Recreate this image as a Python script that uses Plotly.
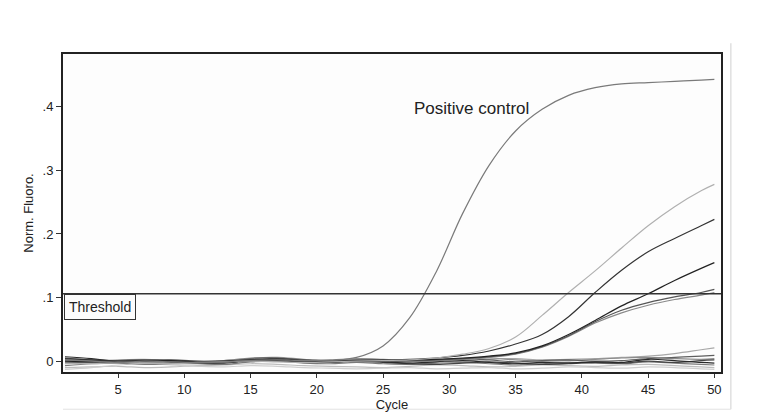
import plotly.graph_objects as go

cycles = [1, 3, 5, 7, 9, 11, 13, 15, 17, 19, 21, 23, 25, 27, 29, 31, 33, 35, 37, 39, 41, 43, 45, 47, 49, 50]

positive_control = [0.002, 0.000, -0.002, 0.000, -0.001, -0.002, -0.001, 0.001, 0.002, 0.001, 0.002, 0.006, 0.024, 0.068, 0.140, 0.232, 0.308, 0.362, 0.396, 0.418, 0.430, 0.436, 0.438, 0.440, 0.442, 0.443]
sample_a = [-0.003, -0.004, -0.002, -0.003, -0.004, -0.002, -0.001, 0.000, -0.001, -0.002, -0.001, 0.000, 0.001, 0.002, 0.005, 0.011, 0.020, 0.038, 0.072, 0.108, 0.142, 0.178, 0.213, 0.243, 0.268, 0.278]
sample_b = [0.004, 0.002, 0.000, 0.001, -0.001, -0.002, 0.000, 0.002, 0.001, 0.000, -0.001, 0.001, 0.002, 0.003, 0.005, 0.009, 0.016, 0.027, 0.042, 0.070, 0.108, 0.143, 0.172, 0.193, 0.213, 0.223]
sample_c = [0.000, -0.001, -0.002, 0.000, 0.001, -0.001, -0.002, 0.001, 0.002, 0.000, -0.001, 0.000, 0.001, 0.002, 0.003, 0.005, 0.008, 0.013, 0.024, 0.042, 0.064, 0.087, 0.106, 0.127, 0.146, 0.155]
sample_d = [-0.002, -0.001, 0.001, 0.002, 0.000, -0.001, 0.000, 0.002, 0.001, -0.001, 0.000, 0.001, 0.000, 0.001, 0.002, 0.004, 0.007, 0.012, 0.023, 0.040, 0.062, 0.080, 0.092, 0.101, 0.108, 0.113]
sample_e = [0.001, 0.000, -0.001, -0.002, -0.001, 0.000, 0.001, 0.003, 0.002, 0.000, -0.001, 0.000, 0.001, 0.000, 0.001, 0.003, 0.006, 0.011, 0.022, 0.039, 0.060, 0.076, 0.088, 0.097, 0.104, 0.108]

neg_1 = [0.007, 0.004, 0.000, 0.001, -0.001, -0.002, -0.003, 0.002, 0.003, 0.000, -0.002, 0.001, -0.001, -0.003, -0.001, 0.001, -0.002, -0.004, -0.002, -0.003, -0.001, -0.002, 0.003, 0.001, -0.002, -0.003]
neg_2 = [0.005, 0.002, 0.001, 0.002, 0.000, -0.003, -0.002, 0.004, 0.005, 0.001, 0.000, 0.002, 0.001, -0.001, 0.002, 0.004, 0.002, -0.001, 0.001, 0.002, 0.000, 0.001, 0.004, 0.006, 0.008, 0.009]
neg_3 = [-0.004, -0.002, 0.002, 0.003, 0.001, -0.001, 0.000, 0.003, 0.001, -0.002, -0.001, 0.003, 0.002, 0.000, -0.002, 0.000, 0.003, 0.004, 0.002, 0.003, 0.004, 0.006, 0.008, 0.012, 0.018, 0.021]
neg_4 = [-0.010, -0.009, -0.008, -0.010, -0.009, -0.007, -0.006, -0.004, -0.005, -0.007, -0.008, -0.009, -0.010, -0.008, -0.006, -0.007, -0.009, -0.008, -0.006, -0.007, -0.008, -0.006, -0.005, -0.007, -0.009, -0.010]
neg_5 = [-0.007, -0.004, -0.003, -0.005, -0.004, -0.004, -0.005, -0.001, 0.000, -0.003, -0.004, -0.002, -0.004, -0.005, -0.003, -0.002, -0.004, -0.006, -0.004, -0.002, -0.003, -0.004, -0.001, -0.003, -0.005, -0.006]
neg_6 = [0.001, 0.000, -0.001, 0.001, 0.002, 0.000, -0.002, 0.001, 0.004, 0.002, -0.001, 0.000, -0.002, -0.004, -0.005, -0.003, -0.001, -0.003, -0.005, -0.004, -0.002, -0.003, 0.000, -0.002, 0.001, 0.002]
neg_7 = [-0.013, -0.010, -0.006, -0.004, -0.006, -0.008, -0.009, -0.007, -0.008, -0.010, -0.011, -0.012, -0.011, -0.010, -0.012, -0.011, -0.010, -0.012, -0.011, -0.009, -0.010, -0.011, -0.009, -0.010, -0.012, -0.013]
neg_8 = [0.003, 0.001, 0.000, -0.002, -0.003, -0.001, 0.001, 0.005, 0.006, 0.003, 0.001, 0.004, 0.003, 0.001, 0.000, 0.003, 0.005, 0.002, 0.000, 0.001, 0.003, 0.005, 0.006, 0.004, 0.003, 0.004]

threshold = 0.106
y_ticks = [0, 0.1, 0.2, 0.3, 0.4]
y_tick_labels = ["0", ".1", ".2", ".3", ".4"]
x_ticks = [5, 10, 15, 20, 25, 30, 35, 40, 45, 50]

negatives = [
    (neg_4, "#bdbdbd"), (neg_7, "#cfcfcf"), (neg_5, "#7a7a7a"), (neg_3, "#a8a8a8"),
    (neg_8, "#8c8c8c"), (neg_2, "#5e5e5e"), (neg_6, "#444444"), (neg_1, "#2a2a2a"),
]
samples = [
    (sample_e, "#8a8a8a"), (sample_d, "#555555"), (sample_c, "#222222"),
    (sample_b, "#333333"), (sample_a, "#b0b0b0"), (positive_control, "#7a7a7a"),
]

fig = go.Figure()
for vals, col in negatives + samples:
    fig.add_trace(go.Scatter(x=cycles, y=vals, mode="lines",
                             line=dict(color=col, width=1.2, shape="spline", smoothing=1.0),
                             showlegend=False, hoverinfo="skip"))

font = "Liberation Sans, Arial, sans-serif"

fig.add_shape(type="line", xref="paper", x0=0, x1=1, yref="y", y0=threshold, y1=threshold,
              line=dict(color="#333333", width=1.5))
fig.add_annotation(xref="paper", x=0.002, yref="y", y=threshold, xanchor="left", yanchor="top",
                   text="Threshold", showarrow=False, font=dict(family=font, size=14, color="#222"),
                   bordercolor="#333333", borderwidth=1, borderpad=4, bgcolor="#fcfcfc", yshift=0)
fig.add_annotation(x=31.7, y=0.398, xref="x", yref="y", text="Positive control", showarrow=False,
                   font=dict(family=font, size=17, color="#222"))

# faint scan frame
fig.add_shape(type="line", xref="paper", yref="paper", x0=1.015, x1=1.015, y0=-0.117, y1=1.034,
              line=dict(color="#d8d8d8", width=1.2))
fig.add_shape(type="line", xref="paper", yref="paper", x0=0.0, x1=1.015, y0=-0.117, y1=-0.117,
              line=dict(color="#e2e2e2", width=1))

fig.update_layout(
    width=763, height=411,
    margin=dict(l=55, r=50, t=46, b=40),
    paper_bgcolor="#ffffff", plot_bgcolor="#fdfdfd",
    font=dict(family=font, size=12, color="#222"),
    xaxis=dict(range=[0.85, 50.5], tickvals=x_ticks, ticks="outside", ticklen=4, tickcolor="#333",
               showline=True, linewidth=2, linecolor="#222", mirror=True, showgrid=False, zeroline=False,
               title=dict(text="Cycle", font=dict(size=13), standoff=1),
               tickfont=dict(size=13)),
    yaxis=dict(range=[-0.017, 0.483], tickvals=y_ticks, ticktext=y_tick_labels, ticks="outside",
               ticklen=5, tickcolor="#333", showline=True, linewidth=2, linecolor="#222", mirror=True,
               showgrid=False, zeroline=False,
               title=dict(text="Norm. Fluoro.", font=dict(size=13), standoff=6),
               tickfont=dict(size=13)),
)

fig.write_html("out.html")
